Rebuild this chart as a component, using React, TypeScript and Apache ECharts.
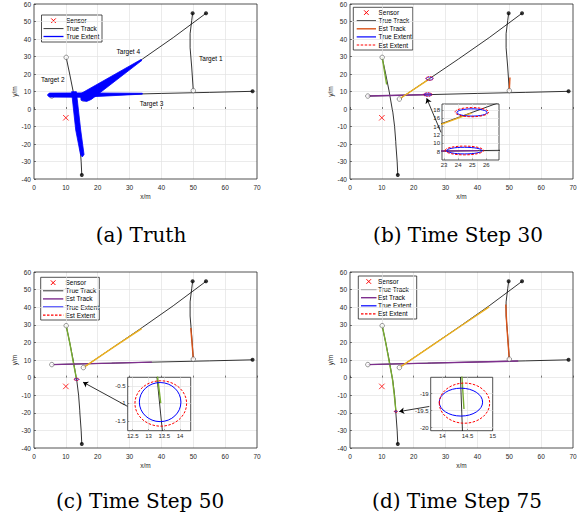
import React, { useEffect, useRef } from 'react';
import * as echarts from 'echarts';

type P = [number, number];

// ---------- data ----------
const sensorPos: P[] = [[10, -5]];

const target1True: P[] = [[50, 10.5], [49.5, 24], [49, 35], [49, 43], [49.5, 50.5], [49.8, 54.7]];
const target2True: P[] = [[10.1, 29.5], [11.2, 20], [12.3, 10], [13.27, -0.25], [13.44, -1.78], [14.0, -10], [14.36, -18.5], [14.4, -20.1], [14.8, -30], [15, -37.7]];
const target3True: P[] = [[5.6, 7.4], [25.5, 8.25], [40, 8.9], [55, 9.5], [68.6, 10.1]];
const target4True: P[] = [[15.5, 5.7], [25, 17.4], [34, 28.5], [43.7, 40.8], [54, 54.7]];
const trueTracks = [target1True, target2True, target3True, target4True];

// Truth extents (panel a), outlines of the swept extents
const extent2Band: P[] = [[11.8, 9.9], [13.3, 9.9], [14.66, -12], [15.7, -26], [15.16, -27.4], [14.6, -26], [13.1, -12]];
const extent3Band: P[] = [[4.2, 8.0], [4.8, 9.1], [15, 9.2], [34, 9.0], [34, 8.5], [15, 6.7], [4.8, 6.8]];
const extent4Band: P[] = [[14.6, 8.7], [14.8, 5.0], [16.5, 4.3], [18, 5.5], [33.9, 27.8], [33.6, 28.3]];
const truthBands = [extent2Band, extent3Band, extent4Band];

const targetLabelNames = ['Target 1', 'Target 2', 'Target 3', 'Target 4'];
const targetLabelPos: P[] = [[55.5, 28.6], [5.9, 17.1], [36.9, 3.4], [29.6, 33.1]];

// Estimated tracks, time step 30
const est1Step30: P[] = [[50, 10.5], [50.2, 18]];
const est2Step30: P[] = [[10.1, 29.5], [11.5, 14]];
const est3Step30: P[] = [[5.6, 7.4], [25.4, 8.25]];
const est4Step30: P[] = [[15.5, 5.7], [22.84, 14.6], [24.95, 17.2]];
// time step 50
const est1Step50: P[] = [[50, 10.5], [49.6, 20], [49.2, 28.2]];
const est2Step50: P[] = [[10.1, 29.5], [11.2, 20], [12.2, 10], [13.29, -0.25], [13.39, -0.99]];
const est3Step50: P[] = [[5.6, 7.4], [24.4, 8.2], [37, 8.8]];
const est4Step50: P[] = [[15.5, 5.7], [25, 17.3], [33.8, 27.8]];
// time step 75
const est1Step75: P[] = [[50, 10.5], [49.6, 20], [49.2, 30], [48.9, 41.5]];
const est2Step75: P[] = [[10.1, 29.5], [11.2, 20], [12.2, 10], [13.29, -0.25], [13.9, -10], [14.39, -18.52], [14.43, -19.45]];
const est3Step75: P[] = [[5.6, 7.4], [24.4, 8.2], [40, 8.9], [52.8, 9.4]];
const est4Step75: P[] = [[15.5, 5.7], [25, 17.3], [34, 28.3], [43.7, 40.2]];

const estColors = ['#D95319', '#77AC30', '#7E2F8E', '#EDB120'];

// Extents: [cx, cy, rx, ry]
const trueExtent30 = [[24.98, 17.37, 1.07, 0.87], [24.44, 8.25, 1.25, 0.8]];
const estExtent30 = [[24.97, 17.45, 1.19, 1.1], [24.44, 8.28, 1.37, 1.05]];
const trueExtent50 = [[13.37, -0.96, 0.66, 0.56]];
const estExtent50 = [[13.39, -1.0, 0.82, 0.65]];
const trueExtent75 = [[14.37, -19.25, 0.43, 0.41]];
const estExtent75 = [[14.44, -19.28, 0.5, 0.59]];

// Arrows from inset to extent
const arrow30: P[] = [[28.57, -13.4], [24.07, 6.1]];
const arrow50: P[] = [[29.4, -16.4], [15.4, -2.6]];
const arrow75: P[] = [[24.9, -16.4], [15.45, -19.3]];

// Inset axis ranges
const insetXRange30: P = [22.85, 26.9];
const insetYRange30: P = [6.0, 19.4];
const insetXRange50: P = [12.34, 14.34];
const insetYRange50: P = [-1.78, -0.25];
const insetXRange75: P = [13.77, 15];
const insetYRange75: P = [-20.09, -18.52];

// ---------- styles ----------
const FONT = 'Liberation Sans';
const AX = '#262626';
const GRIDLINE = '#e2e2e2';

const mainRects = [
  { left: 34, top: 4, width: 223, height: 175 },
  { left: 350, top: 4, width: 223, height: 175 },
  { left: 34, top: 272, width: 223, height: 176 },
  { left: 350, top: 272, width: 223, height: 176 },
];
const insetRects = [
  { left: 442, top: 104, width: 57, height: 56 },
  { left: 127.7, top: 377.3, width: 63, height: 53.4 },
  { left: 430.7, top: 377.3, width: 62, height: 53.4 },
];

function mainAxisX(gi: number) {
  return {
    type: 'value', gridIndex: gi, min: 0, max: 70, interval: 10, z: 0,
    name: 'x/m', nameLocation: 'middle', nameGap: 14,
    nameTextStyle: { fontSize: 6.5, color: AX, fontFamily: FONT },
    axisLine: { show: false },
    axisTick: { show: true, inside: true, length: 2, lineStyle: { color: AX, width: 0.6 } },
    axisLabel: { fontSize: 6.5, color: AX, margin: 5, fontFamily: FONT },
    splitLine: { show: true, showMinLine: false, showMaxLine: false, lineStyle: { color: GRIDLINE, width: 0.7 } },
  };
}
function mainAxisY(gi: number) {
  return {
    type: 'value', gridIndex: gi, min: -40, max: 60, interval: 10, z: 0,
    name: 'y/m', nameLocation: 'middle', nameGap: 15,
    nameTextStyle: { fontSize: 6.5, color: AX, fontFamily: FONT },
    axisLine: { show: false },
    axisTick: { show: true, inside: true, length: 2, lineStyle: { color: AX, width: 0.6 } },
    axisLabel: { fontSize: 6.5, color: AX, margin: 3, fontFamily: FONT },
    splitLine: { show: true, showMinLine: false, showMaxLine: false, lineStyle: { color: GRIDLINE, width: 0.7 } },
  };
}
function insetAxis(gi: number, range: P, splitNumber: number, showMax: boolean) {
  return {
    type: 'value', gridIndex: gi, min: range[0], max: range[1], splitNumber, z: 11,
    axisLine: { show: false },
    axisTick: { show: true, inside: true, length: 1.5, lineStyle: { color: AX, width: 0.5 } },
    axisLabel: { fontSize: 6, color: AX, margin: 2, showMinLabel: false, showMaxLabel: showMax, fontFamily: FONT },
    splitLine: { show: true, showMinLine: false, showMaxLine: false, lineStyle: { color: GRIDLINE, width: 0.7 } },
  };
}

function trackSeries(gi: number, z: number, lw: number) {
  return trueTracks.map((d) => ({
    type: 'line', xAxisIndex: gi, yAxisIndex: gi, data: d, symbol: 'none', showSymbol: false,
    lineStyle: { color: '#000', width: lw }, z, silent: true, clip: true,
  }));
}
function estSeries(gi: number, set: P[][], z: number, lw: number) {
  return set.map((d, i) => ({
    type: 'line', xAxisIndex: gi, yAxisIndex: gi, data: d, symbol: 'none', showSymbol: false,
    lineStyle: { color: estColors[i], width: lw }, z, silent: true, clip: true,
  }));
}
function ellipseSeries(gi: number, data: number[][], color: string, dash: number[] | null, lw: number, z: number) {
  return {
    type: 'custom', xAxisIndex: gi, yAxisIndex: gi, z, silent: true, clip: true,
    data, encode: { x: 0, y: 1 },
    renderItem: (_p: any, api: any) => {
      const c = api.coord([api.value(0), api.value(1)]);
      const s = api.size([api.value(2), api.value(3)]);
      return {
        type: 'ellipse',
        shape: { cx: c[0], cy: c[1], rx: s[0], ry: s[1] },
        style: { fill: 'none', stroke: color, lineWidth: lw, lineDash: dash || undefined },
      };
    },
  };
}
function markerSeries(gi: number, z: number) {
  return [
    {
      type: 'scatter', xAxisIndex: gi, yAxisIndex: gi, data: trueTracks.map((t) => t[0]), symbol: 'circle', symbolSize: 4.5,
      itemStyle: { color: '#fff', borderColor: '#444', borderWidth: 0.7 }, z, silent: true,
    },
    {
      type: 'scatter', xAxisIndex: gi, yAxisIndex: gi, data: trueTracks.map((t) => t[t.length - 1]), symbol: 'circle', symbolSize: 4,
      itemStyle: { color: '#000' }, z, silent: true,
    },
  ];
}
function sensorSeries(gi: number, z: number) {
  return {
    type: 'scatter', xAxisIndex: gi, yAxisIndex: gi, data: sensorPos, symbol: 'path://M0,0L10,10M10,0L0,10', symbolSize: 5.5,
    itemStyle: { color: 'none', borderColor: '#ff0000', borderWidth: 1 }, z, silent: true,
  };
}
function arrowSeries(gi: number, coords: P[], z: number) {
  return {
    type: 'lines', coordinateSystem: 'cartesian2d', xAxisIndex: gi, yAxisIndex: gi, z, silent: true,
    data: [{ coords }], symbol: ['none', 'arrow'], symbolSize: 5,
    lineStyle: { color: '#000', width: 0.8, opacity: 1 },
  };
}

type LegendEntry = { label: string; kind: 'cross' | 'line'; color: string; width: number; dash?: number[] };
const legendA: LegendEntry[] = [
  { label: 'Sensor', kind: 'cross', color: '#ff0000', width: 1 },
  { label: 'True Track', kind: 'line', color: '#000', width: 0.8 },
  { label: 'True Extent', kind: 'line', color: '#0000ff', width: 1.3 },
];
const legendFull = (estColor: string): LegendEntry[] => [
  { label: 'Sensor', kind: 'cross', color: '#ff0000', width: 1 },
  { label: 'True Track', kind: 'line', color: '#000', width: 0.8 },
  { label: 'Est Track', kind: 'line', color: estColor, width: 1.4 },
  { label: 'True Extent', kind: 'line', color: '#0000ff', width: 1.2 },
  { label: 'Est Extent', kind: 'line', color: '#ff0000', width: 1.2, dash: [2.5, 1.5] },
];

function buildLegend(box: number[], row0: number, step: number, x0: number, x1: number, tx: number, entries: LegendEntry[]) {
  const children: any[] = [
    { type: 'rect', shape: { x: box[0], y: box[1], width: box[2], height: box[3] }, style: { fill: '#fff', stroke: AX, lineWidth: 0.8 } },
  ];
  entries.forEach((e, i) => {
    const y = row0 + step * i;
    if (e.kind === 'cross') {
      const cx = (x0 + x1) / 2;
      const r = 2.3;
      children.push({ type: 'line', shape: { x1: cx - r, y1: y - r, x2: cx + r, y2: y + r }, style: { stroke: e.color, lineWidth: e.width } });
      children.push({ type: 'line', shape: { x1: cx - r, y1: y + r, x2: cx + r, y2: y - r }, style: { stroke: e.color, lineWidth: e.width } });
    } else {
      children.push({ type: 'line', shape: { x1: x0, y1: y, x2: x1, y2: y }, style: { stroke: e.color, lineWidth: e.width, lineDash: e.dash } });
    }
    children.push({
      type: 'text', x: tx, y,
      style: { text: e.label, fontSize: 6.5, fontFamily: FONT, fill: '#000', align: 'left', verticalAlign: 'middle' },
    });
  });
  return { type: 'group', z: 20, children };
}

function caption(text: string, x: number, y: number) {
  return {
    type: 'text', x, y, z: 20,
    style: { text, fontSize: 20, fontFamily: 'DejaVu Serif', fill: '#000', align: 'center', verticalAlign: 'middle' },
  };
}

function buildOption() {
  const grids: any[] = [
    ...mainRects.map((r) => ({ ...r, show: true, z: 1, backgroundColor: 'transparent', borderColor: AX, borderWidth: 0.8 })),
    ...insetRects.map((r) => ({ ...r, show: true, z: 10, backgroundColor: '#fff', borderColor: AX, borderWidth: 0.8 })),
  ];
  const xAxis: any[] = [0, 1, 2, 3].map(mainAxisX);
  const yAxis: any[] = [0, 1, 2, 3].map(mainAxisY);
  xAxis.push(insetAxis(4, insetXRange30, 4, false), insetAxis(5, insetXRange50, 4, false), insetAxis(6, insetXRange75, 2, true));
  yAxis.push(insetAxis(4, insetYRange30, 6, false), insetAxis(5, insetYRange50, 3, false), insetAxis(6, insetYRange75, 3, false));

  const series: any[] = [];
  // Panel (a)
  series.push(...trackSeries(0, 2, 0.8));
  series.push(...markerSeries(0, 3));
  series.push({
    type: 'custom', xAxisIndex: 0, yAxisIndex: 0, z: 4, silent: true,
    data: truthBands.map((b) => b[0]),
    renderItem: (p: any, api: any) => {
      const pts = truthBands[p.dataIndex].map((q) => api.coord(q));
      return { type: 'polygon', shape: { points: pts }, style: { fill: '#0000ff', stroke: '#0000ff', lineWidth: 0.8 } };
    },
  });
  series.push(sensorSeries(0, 5));
  series.push({
    type: 'custom', xAxisIndex: 0, yAxisIndex: 0, z: 5, silent: true,
    data: targetLabelPos, encode: { x: 0, y: 1 },
    renderItem: (p: any, api: any) => {
      const c = api.coord([api.value(0), api.value(1)]);
      return {
        type: 'text', x: c[0], y: c[1],
        style: { text: targetLabelNames[p.dataIndex], fill: '#000', fontSize: 6.5, fontFamily: FONT, align: 'center', verticalAlign: 'middle' },
      };
    },
  });

  const steps = [
    { gi: 1, inset: 4, est: [est1Step30, est2Step30, est3Step30, est4Step30], te: trueExtent30, ee: estExtent30, arrow: arrow30 },
    { gi: 2, inset: 5, est: [est1Step50, est2Step50, est3Step50, est4Step50], te: trueExtent50, ee: estExtent50, arrow: arrow50 },
    { gi: 3, inset: 6, est: [est1Step75, est2Step75, est3Step75, est4Step75], te: trueExtent75, ee: estExtent75, arrow: arrow75 },
  ];
  steps.forEach((s) => {
    series.push(...trackSeries(s.gi, 2, 0.8));
    series.push(...estSeries(s.gi, s.est, 3, 1.4));
    series.push(...markerSeries(s.gi, 4));
    series.push(ellipseSeries(s.gi, s.te, '#0000ff', null, 0.8, 5));
    series.push(ellipseSeries(s.gi, s.ee, '#ff0000', [1.5, 1], 0.8, 5));
    series.push(sensorSeries(s.gi, 5));
    series.push(arrowSeries(s.gi, s.arrow, 6));
    // inset
    series.push(...trackSeries(s.inset, 12, 0.8));
    series.push(...estSeries(s.inset, s.est, 13, 1.4));
    series.push(ellipseSeries(s.inset, s.te, '#0000ff', null, 1, 14));
    series.push(ellipseSeries(s.inset, s.ee, '#ff0000', [2.5, 1.5], 1, 14));
  });

  const graphic: any[] = [
    buildLegend([41.5, 15, 60.5, 27], 20.7, 7.9, 43.5, 63.5, 66, legendA),
    buildLegend([353.3, 7.3, 59.5, 42.7], 12.6, 8.1, 356.7, 376, 378.5, legendFull('#D95319')),
    buildLegend([40.7, 277.3, 58.6, 42.7], 282.7, 8.1, 43, 63.3, 65.5, legendFull('#7E2F8E')),
    buildLegend([358.3, 276, 58.4, 43], 281.5, 8.1, 361, 376.5, 378, legendFull('#7E2F8E')),
    caption('(a) Truth', 141, 235),
    caption('(b) Time Step 30', 458, 235),
    caption('(c) Time Step 50', 140, 501),
    caption('(d) Time Step 75', 457, 501),
  ];

  return {
    animation: false,
    backgroundColor: '#fff',
    textStyle: { fontFamily: FONT },
    grid: grids,
    xAxis,
    yAxis,
    series,
    graphic,
  };
}

export default function App() {
  const ref = useRef<HTMLDivElement>(null);
  useEffect(() => {
    if (!ref.current) return;
    const chart = echarts.init(ref.current, null, { renderer: 'svg' });
    chart.setOption(buildOption() as any);
    return () => chart.dispose();
  }, []);
  return (
    <div
      ref={ref}
      style={{ position: 'fixed', left: 0, top: 0, width: 583, height: 521, background: '#fff' }}
    />
  );
}
